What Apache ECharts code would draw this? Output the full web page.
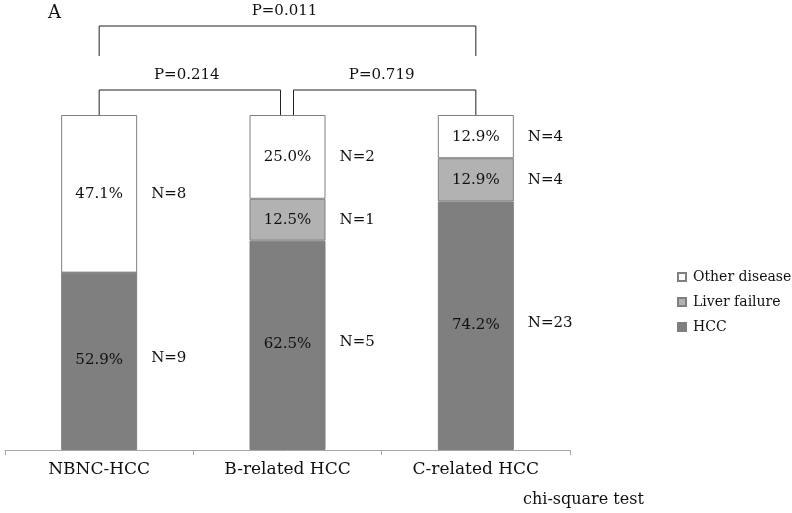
<!DOCTYPE html>
<html>
<head>
<meta charset="utf-8">
<script src="https://cdn.jsdelivr.net/npm/echarts@6/dist/echarts.min.js"></script>
<style>
html,body{margin:0;padding:0;background:#fff;}
#main{width:792px;height:513px;}
</style>
</head>
<body>
<div id="main"></div>
<script>
// ---- data ----
const categories = ['NBNC-HCC', 'B-related HCC', 'C-related HCC'];
const hccCounts = [9, 5, 23];
const liverFailureCounts = [0, 1, 4];
const otherDiseaseCounts = [8, 2, 4];
const comparisons = [
  { from: 0, to: 2, p: 'P=0.011', level: 0 },
  { from: 0, to: 1, p: 'P=0.214', level: 1 },
  { from: 1, to: 2, p: 'P=0.719', level: 1 }
];
const panelLetter = 'A';
const testNote = 'chi-square test';

const totals = categories.map((_, i) => hccCounts[i] + liverFailureCounts[i] + otherDiseaseCounts[i]);
function pct(arr) { return arr.map((v, i) => v / totals[i] * 100); }

const FONT = 'DejaVu Serif';
const BAR_W = 76;

function makeSeries(name, counts, color, nLift) {
  return {
    name: name,
    type: 'bar',
    stack: 'total',
    barWidth: BAR_W,
    data: pct(counts).map((v, i) => ({ value: v, n: counts[i] })),
    itemStyle: { color: color, borderColor: '#7f7f7f', borderWidth: 1 },
    label: {
      show: true,
      position: [0, '50%'],
      align: 'left',
      verticalAlign: 'middle',
      formatter: function (p) {
        if (!p.value) return '';
        return '{p|' + p.value.toFixed(1) + '%}{n|N=' + p.data.n + '}';
      },
      rich: {
        p: { width: BAR_W, align: 'center', fontFamily: FONT, fontSize: 15, color: '#111', padding: [0, 0, nLift ? 2 : 0, 0] },
        n: { padding: [0, 0, nLift, 14], fontFamily: FONT, fontSize: 15, color: '#111' }
      }
    }
  };
}

const chart = echarts.init(document.getElementById('main'), null, { renderer: 'canvas' });
chart.setOption({
  animation: false,
  backgroundColor: '#fff',
  grid: { left: 5, right: 222, top: 115, bottom: 63, containLabel: false },
  xAxis: {
    type: 'category',
    data: categories,
    axisLine: { lineStyle: { color: '#a6a6a6', width: 1 } },
    axisTick: { show: true, length: 5, lineStyle: { color: '#a6a6a6' } },
    axisLabel: { fontFamily: FONT, fontSize: 17, color: '#111', margin: 11 }
  },
  yAxis: { type: 'value', min: 0, max: 100, show: false, splitLine: { show: false } },
  legend: {
    orient: 'vertical',
    left: 672,
    top: 264,
    itemWidth: 8,
    itemHeight: 8,
    itemGap: 9,
    icon: 'rect',
    data: ['Other disease', 'Liver failure', 'HCC'],
    textStyle: { fontFamily: FONT, fontSize: 14, color: '#111', lineHeight: 16, padding: [0, 0, 0, 2] }
  },
  series: [
    makeSeries('HCC', hccCounts, '#7f7f7f', 6),
    makeSeries('Liver failure', liverFailureCounts, '#b2b2b2', 0),
    makeSeries('Other disease', otherDiseaseCounts, '#ffffff', 0)
  ]
});

// ---- significance brackets (positions derived from axes) ----
const cx = categories.map((_, i) => chart.convertToPixel({ xAxisIndex: 0 }, i));
const topY = chart.convertToPixel({ yAxisIndex: 0 }, 100);
const levelY = [26, 90];
const levelBottom = [56, topY];
const elements = [];
comparisons.forEach(c => {
  let x1 = cx[c.from], x2 = cx[c.to];
  if (c.level === 1) {
    if (c.to === 1) x2 -= 7;
    if (c.from === 1) x1 += 6;
  }
  const y = levelY[c.level], yb = levelBottom[c.level];
  elements.push({
    type: 'polyline',
    shape: { points: [[x1, yb], [x1, y], [x2, y], [x2, yb]] },
    style: { stroke: '#222', lineWidth: 1, fill: null }
  });
  elements.push({
    type: 'text',
    x: (x1 + x2) / 2 - 3,
    y: y - 15,
    style: { text: c.p, fontFamily: FONT, fontSize: 15, fill: '#111', align: 'center', verticalAlign: 'middle' }
  });
});
elements.push({
  type: 'text', x: 48, y: 13,
  style: { text: panelLetter, fontFamily: FONT, fontSize: 18, fill: '#111', align: 'left', verticalAlign: 'middle' }
});
elements.push({
  type: 'text', x: 523, y: 500,
  style: { text: testNote, fontFamily: FONT, fontSize: 16, fill: '#111', align: 'left', verticalAlign: 'middle' }
});
chart.setOption({ graphic: { elements: elements } });
</script>
</body>
</html>
